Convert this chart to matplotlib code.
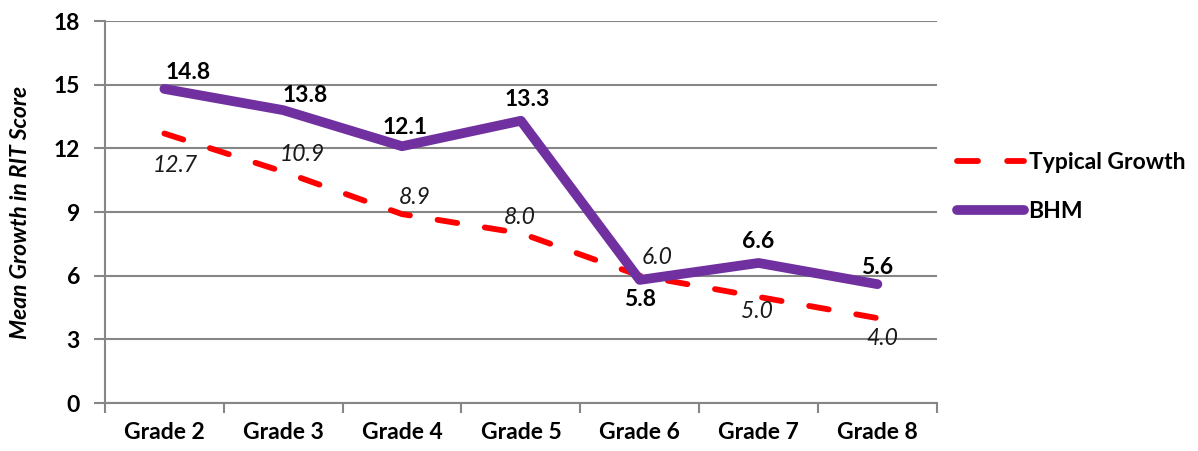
import matplotlib
matplotlib.use("Agg")
import matplotlib.pyplot as plt
from matplotlib.lines import Line2D

plt.rcParams['font.family'] = ['Lato', 'DejaVu Sans']

categories = ["Grade 2", "Grade 3", "Grade 4", "Grade 5", "Grade 6", "Grade 7", "Grade 8"]
typical = [12.7, 10.9, 8.9, 8.0, 6.0, 5.0, 4.0]
bhm = [14.8, 13.8, 12.1, 13.3, 5.8, 6.6, 5.6]
yticks = [0, 3, 6, 9, 12, 15, 18]

# label offsets in pixels (dx, dy up)
typ_off = [(11, -32), (19, 17), (13, 17), (-1, 16), (17, 18), (-2, -15), (5, -20)]
bhm_off = [(24, 16), (22, 15), (3, 19), (6, 21), (0, -20), (0, 21), (0, 17)]

FS = 16.5
fig = plt.figure(figsize=(11.98, 4.51), dpi=100)
ax = fig.add_axes([0.0876, 0.1064, 0.6944, 0.847])

x = list(range(len(categories)))
grid_c = "#868686"
px = 0.72  # points per pixel at 100 dpi
TLW, BLW = 4.2, 7.0
DASH = (3.4, 4.8)

ax.plot(x, typical, color="#FF0000", lw=TLW, dashes=DASH,
        dash_capstyle="round", solid_capstyle="round", zorder=3)
ax.plot(x, bhm, color="#7030A0", lw=BLW, solid_capstyle="round",
        solid_joinstyle="round", zorder=4)

for i, (v, (dx, dy)) in enumerate(zip(typical, typ_off)):
    ax.annotate(f"{v:.1f}", (i, v), xytext=(dx * px, dy * px), textcoords="offset points",
                ha="center", va="center", fontsize=FS, style="italic", color="#1a1a1a")
for i, (v, (dx, dy)) in enumerate(zip(bhm, bhm_off)):
    ax.annotate(f"{v:.1f}", (i, v), xytext=(dx * px, dy * px), textcoords="offset points",
                ha="center", va="center", fontsize=FS, fontweight="bold", color="black")

ax.set_xlim(-0.5, len(categories) - 0.5)
ax.set_ylim(0, 18)
ax.set_yticks(yticks)
ax.set_yticklabels([str(t) for t in yticks], fontsize=FS, fontweight="bold")
ax.set_xticks(x)
ax.set_xticklabels(categories, fontsize=FS, fontweight="bold")
ax.tick_params(axis="x", length=0, pad=14)
ax.set_xticks([i - 0.5 for i in range(len(categories) + 1)], minor=True)
ax.tick_params(axis="x", which="minor", length=7, color=grid_c, width=1.5, direction="out")
ax.tick_params(axis="y", length=8, color=grid_c, width=1.5, direction="out", pad=10)

ax.grid(axis="y", color=grid_c, lw=1.5)
ax.set_axisbelow(True)
for s in ["top", "right"]:
    ax.spines[s].set_visible(False)
for s in ["left", "bottom"]:
    ax.spines[s].set_color(grid_c)
    ax.spines[s].set_linewidth(1.5)

ax.set_ylabel("Mean Growth in RIT Score", fontsize=FS, fontweight="bold",
              style="italic", labelpad=16)

handles = [
    Line2D([0], [0], color="#FF0000", lw=TLW, dashes=(3.6, 5.0), dash_capstyle="round"),
    Line2D([0], [0], color="#7030A0", lw=BLW, solid_capstyle="round"),
]
leg = fig.legend(handles, ["Typical Growth", "BHM"], loc="center left",
                 bbox_to_anchor=(0.782, 0.585), frameon=False,
                 prop={"size": FS, "weight": "bold"}, handlelength=2.9,
                 handletextpad=0.2, labelspacing=1.2)

fig.savefig("out.png", dpi=100)
